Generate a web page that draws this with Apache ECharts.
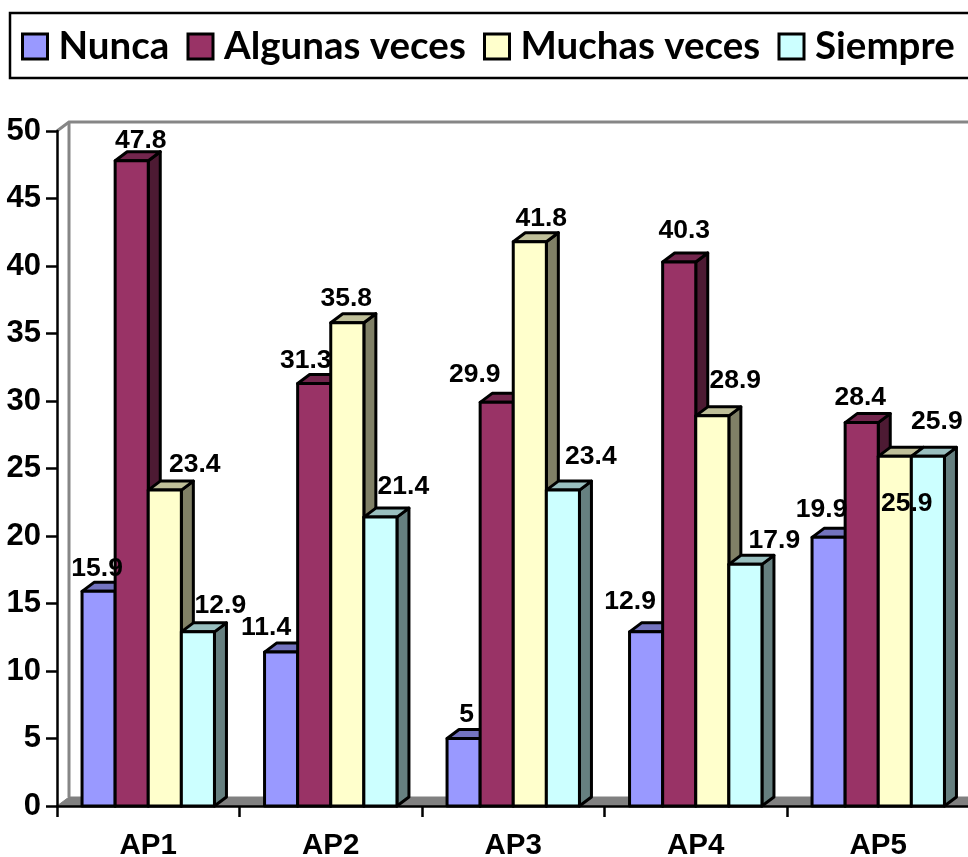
<!DOCTYPE html>
<html>
<head>
<meta charset="utf-8">
<style>html,body{margin:0;padding:0;background:#fff;overflow:hidden}#c{width:968px;height:857px}</style>
<script src="https://cdn.jsdelivr.net/npm/echarts@6/dist/echarts.min.js"></script>
</head>
<body>
<div id="c"></div>
<script>
const categories = ['AP1', 'AP2', 'AP3', 'AP4', 'AP5'];
const nunca = [15.9, 11.4, 5, 12.9, 19.9];
const algunasVeces = [47.8, 31.3, 29.9, 40.3, 28.4];
const muchasVeces = [23.4, 35.8, 41.8, 28.9, 25.9];
const siempre = [12.9, 21.4, 23.4, 17.9, 25.9];

const names = ['Nunca', 'Algunas veces', 'Muchas veces', 'Siempre'];
const values = [nunca, algunasVeces, muchasVeces, siempre];
const palette = [
  { front: '#9999FF', top: '#7373BF', side: '#4D4D80' },
  { front: '#993366', top: '#73264D', side: '#4D1A33' },
  { front: '#FFFFCC', top: '#BFBF99', side: '#808066' },
  { front: '#CCFFFF', top: '#99BFBF', side: '#668080' }
];
// label nudges (px from the top-centre of each bar's front face), by series then category
const labelNudge = [
  [[-1.5, -23], [-15, -24], [3, -24], [-16, -30], [-7, -28]],
  [[9, -20], [-8.5, -23], [-22, -28], [5, -31], [-1.5, -25]],
  [[30, -25], [-1, -24], [11.5, -23], [23, -35], [12, 47]],
  [[22.5, -26], [23, -30], [28, -33], [29, -24], [9, -35]]
];
const legendLeft = [21, 186.5, 483, 777.5];
const DX = 12, DY = 9, BAR = 33.1, LINE = 3;
const GROUP_W = BAR * 4;

function barRender(si) {
  return function (params, api) {
    const cat = api.value(0), v = api.value(1);
    const base = api.coord([cat, 0]);
    const topPt = api.coord([cat, v]);
    const x0 = base[0] - GROUP_W / 2 + si * BAR, x1 = x0 + BAR;
    const y0 = base[1], y1 = topPt[1];
    const col = palette[si];
    const stroke = { stroke: '#000', lineWidth: LINE, lineJoin: 'round' };
    return {
      type: 'group',
      children: [
        { type: 'polygon', shape: { points: [[x1, y1], [x1 + DX, y1 - DY], [x1 + DX, y0 - DY], [x1, y0]] },
          style: Object.assign({ fill: col.side }, stroke) },
        { type: 'polygon', shape: { points: [[x0, y1], [x0 + DX, y1 - DY], [x1 + DX, y1 - DY], [x1, y1]] },
          style: Object.assign({ fill: col.top }, stroke) },
        { type: 'rect', shape: { x: x0, y: y1, width: BAR, height: y0 - y1 },
          style: Object.assign({ fill: col.front }, stroke) }
      ]
    };
  };
}
function labelRender(si) {
  return function (params, api) {
    const cat = api.value(0), v = api.value(1);
    const base = api.coord([cat, 0]);
    const topPt = api.coord([cat, v]);
    const cx = base[0] - GROUP_W / 2 + (si + 0.5) * BAR;
    const n = labelNudge[si][params.dataIndex];
    return {
      type: 'text',
      style: { text: String(v), x: cx + n[0], y: topPt[1] + n[1], align: 'center', verticalAlign: 'middle',
        font: 'bold 26.5px "Liberation Sans", Arial, sans-serif', fill: '#000' }
    };
  };
}
function wallRender(params, api) {
  const cs = params.coordSys;
  const l = cs.x, r = cs.x + cs.width, t = cs.y, b = cs.y + cs.height;
  const wall = { stroke: '#868686', lineWidth: 3, fill: null };
  return {
    type: 'group',
    children: [
      { type: 'polygon', shape: { points: [[l, b], [l + DX, b - DY], [r + DX, b - DY], [r, b]] },
        style: { fill: '#808080', stroke: '#808080', lineWidth: 1 } },
      { type: 'polyline', shape: { points: [[l, t], [l + DX, t - DY], [r + DX, t - DY]] }, style: wall },
      { type: 'line', shape: { x1: l + DX, y1: t - DY, x2: l + DX, y2: b - DY }, style: wall }
    ]
  };
}

const series = [
  { type: 'custom', silent: true, z: 1, renderItem: wallRender, data: [[0, 0]], clip: false }
];
names.forEach(function (name, si) {
  const data = values[si].map(function (v, i) { return [i, v]; });
  series.push({ type: 'custom', name: name, z: 3, renderItem: barRender(si), data: data,
    encode: { x: 0, y: 1 }, clip: false,
    itemStyle: { color: palette[si].front, borderColor: '#000', borderWidth: 3 } });
});
names.forEach(function (name, si) {
  const data = values[si].map(function (v, i) { return [i, v]; });
  series.push({ type: 'custom', z: 5, silent: true, renderItem: labelRender(si), data: data,
    encode: { x: 0, y: 1 }, clip: false });
});

const chart = echarts.init(document.getElementById('c'), null, { renderer: 'canvas' });
chart.setOption({
  animation: false,
  backgroundColor: '#fff',
  grid: { left: 57, right: -1.5, top: 131, bottom: 51, containLabel: false, outerBoundsMode: 'none' },
  graphic: [{ type: 'rect', z: 0, silent: true, shape: { x: 10, y: 13, width: 990, height: 65 },
    style: { fill: '#fff', stroke: '#000', lineWidth: 2.5 } }],
  legend: names.map(function (name, i) {
    return {
      data: [name],
      left: legendLeft[i], top: 25,
      padding: 0,
      itemWidth: 25, itemHeight: 25, selectedMode: false,
      icon: 'rect',
      itemStyle: { borderColor: '#000', borderWidth: 3 },
      textStyle: { fontFamily: 'Lato', fontWeight: 'bold', fontSize: 38.5, color: '#000', lineHeight: 40, padding: [3, 0, 0, 6] }
    };
  }),
  xAxis: {
    type: 'category', data: categories, boundaryGap: true, z: 10,
    axisLine: { lineStyle: { color: '#000', width: 2.5 } },
    axisTick: { show: true, alignWithLabel: false, length: 11, lineStyle: { color: '#000', width: 2.5 } },
    axisLabel: { color: '#000', fontFamily: '"Liberation Sans"', fontWeight: 'bold', fontSize: 29.5, margin: 25 }
  },
  yAxis: {
    type: 'value', min: 0, max: 50, interval: 5, z: 10,
    splitLine: { show: false },
    axisLine: { show: true, lineStyle: { color: '#000', width: 2.5 } },
    axisTick: { show: true, length: 11, lineStyle: { color: '#000', width: 2.5 } },
    axisLabel: { color: '#000', fontFamily: '"Liberation Sans"', fontWeight: 'bold', fontSize: 31, margin: 16 }
  },
  series: series
});
</script>
</body>
</html>
